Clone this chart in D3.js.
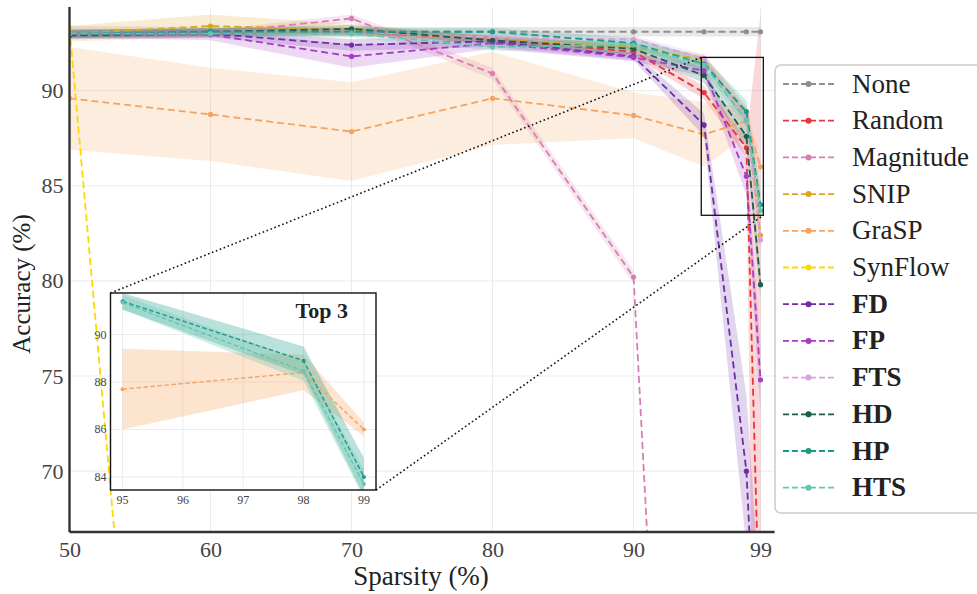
<!DOCTYPE html>
<html>
<head>
<meta charset="utf-8">
<script src="https://cdn.jsdelivr.net/npm/d3@7"></script>
<style>
  body { margin: 0; background: #fff; }
  svg { font-family: "Liberation Serif", "DejaVu Serif", serif; }
</style>
</head>
<body>
<svg id="chart" width="977" height="594"></svg>
<script>
// sparsity levels (x) and methods
const sparsity = [50, 60, 70, 80, 90, 95, 98, 99];
const methodNames = ['None', 'Random', 'Magnitude', 'SNIP', 'GraSP', 'SynFlow', 'FD', 'FP', 'FTS', 'HD', 'HP', 'HTS'];
const methodColors = ['#8e8e8e', '#e6363b', '#d67fb3', '#daa520', '#f4a460', '#ffd700', '#6f2da8', '#a63dc2', '#dba0e0', '#1b5e4f', '#1b9a88', '#62c5b1'];
const boldNames = ['FD', 'FP', 'FTS', 'HD', 'HP', 'HTS'];
const insetNames = ['GraSP', 'HP', 'HTS'];

// mean accuracy (%)
const accNone      = [93.1, 93.1, 93.1, 93.1, 93.1, 93.1, 93.1, 93.1];
const accRandom    = [93.0, 93.1, 93.1, 92.7, 92.05, 89.9, 87.0, 60.0];
const accMagnitude = [93.05, 93.0, 93.8, 90.9, 80.2, 10.0, 10.0, 10.0];
const accSnip      = [93.0, 93.4, 93.2, 92.7, 92.3, 91.6, 88.7, 82.4];
const accGrasp     = [89.6, 88.75, 87.85, 89.6, 88.7, 87.7, 88.4, 86.0];
const accSynflow   = [93.3, 10.0, 10.0, 10.0, 10.0, 10.0, 10.0, 10.0];
const accFD        = [92.9, 93.0, 92.4, 92.6, 91.8, 88.2, 70.0, 55.0];
const accFP        = [93.0, 92.95, 91.8, 92.5, 91.75, 91.05, 85.5, 74.8];
const accFTS       = [93.0, 93.1, 93.1, 92.8, 92.7, 91.7, 88.6, 82.15];
const accHD        = [92.95, 93.1, 93.25, 92.65, 92.2, 90.8, 87.6, 79.8];
const accHP        = [93.0, 93.1, 93.1, 93.1, 92.5, 91.4, 88.9, 84.0];
const accHTS       = [93.0, 93.0, 93.0, 92.3, 92.4, 91.35, 88.45, 83.7];

// standard deviation (%)
const errNone      = [0.3, 0.25, 0.25, 0.25, 0.25, 0.25, 0.25, 0.25];
const errRandom    = [0.2, 0.2, 0.2, 0.2, 0.25, 0.35, 0.5, 34.0];
const errMagnitude = [0.2, 0.2, 0.2, 0.3, 0.35, 0, 0, 0];
const errSnip      = [0.4, 0.6, 0.3, 0.2, 0.2, 0.3, 0.5, 0.8];
const errGrasp     = [2.7, 2.45, 2.6, 2.45, 1.2, 1.7, 0.75, 0.3];
const errSynflow   = [0.3, 0, 0, 0, 0, 0, 0, 0];
const errFD        = [0.2, 0.2, 0.3, 0.3, 0.2, 0.6, 4.0, 8.0];
const errFP        = [0.2, 0.3, 0.6, 0.3, 0.2, 0.3, 1.0, 1.8];
const errFTS       = [0.2, 0.2, 0.2, 0.2, 0.2, 0.2, 0.5, 1.0];
const errHD        = [0.2, 0.2, 0.2, 0.2, 0.3, 0.4, 0.6, 0.8];
const errHP        = [0.2, 0.2, 0.2, 0.2, 0.3, 0.35, 0.6, 0.8];
const errHTS       = [0.2, 0.2, 0.2, 0.2, 0.3, 0.3, 0.4, 0.6];

const xTicks = [50, 60, 70, 80, 90, 99];
const yTicks = [70, 75, 80, 85, 90];
const insetXTicks = [95, 96, 97, 98, 99];
const insetYTicks = [84, 86, 88, 90];

const accs = [accNone, accRandom, accMagnitude, accSnip, accGrasp, accSynflow, accFD, accFP, accFTS, accHD, accHP, accHTS];
const errs = [errNone, errRandom, errMagnitude, errSnip, errGrasp, errSynflow, errFD, errFP, errFTS, errHD, errHP, errHTS];

const series = methodNames.map((name, i) => ({
  name,
  color: methodColors[i],
  points: sparsity.map((s, j) => ({ s, mean: accs[i][j], err: errs[i][j] }))
}));

const svg = d3.select('#chart');
const plot = { left: 69.5, right: 774.6, top: 7, bottom: 532 };

const x = d3.scaleLinear().domain([50, 100]).range([plot.left, plot.right]);
const y = d3.scaleLinear().domain([66.8, 94.4]).range([plot.bottom, plot.top]);

svg.append('defs').append('clipPath').attr('id', 'main-clip')
  .append('rect')
  .attr('x', plot.left).attr('y', plot.top)
  .attr('width', plot.right - plot.left).attr('height', plot.bottom - plot.top);

// grid lines
const grid = svg.append('g');
grid.selectAll('.gx').data(xTicks.slice(1)).enter().append('line')
  .attr('x1', (d) => x(d)).attr('x2', (d) => x(d))
  .attr('y1', plot.top).attr('y2', plot.bottom)
  .attr('stroke', '#ebebeb').attr('stroke-width', 1);
grid.selectAll('.gy').data(yTicks).enter().append('line')
  .attr('x1', plot.left).attr('x2', plot.right)
  .attr('y1', (d) => y(d)).attr('y2', (d) => y(d))
  .attr('stroke', '#ebebeb').attr('stroke-width', 1);

function drawSeries(g, list, xs, ys, opts) {
  const area = d3.area()
    .x((d) => xs(d.s))
    .y0((d) => ys(d.mean - d.err))
    .y1((d) => ys(d.mean + d.err));
  const line = d3.line()
    .x((d) => xs(d.s))
    .y((d) => ys(d.mean));

  for (const sr of list) {
    g.append('path')
      .datum(sr.points)
      .attr('d', area)
      .attr('fill', sr.color)
      .attr('fill-opacity', opts.bandOpacity);
  }
  for (const sr of list) {
    g.append('path')
      .datum(sr.points)
      .attr('d', line)
      .attr('fill', 'none')
      .attr('stroke', sr.color)
      .attr('stroke-width', opts.lineWidth)
      .attr('stroke-dasharray', opts.dash);
    g.selectAll(null)
      .data(sr.points)
      .enter()
      .append('circle')
      .attr('cx', (d) => xs(d.s))
      .attr('cy', (d) => ys(d.mean))
      .attr('r', opts.dotR)
      .attr('fill', sr.color);
  }
}

// main series
const mainG = svg.append('g').attr('clip-path', 'url(#main-clip)');
drawSeries(mainG, series, x, y, { bandOpacity: 0.2, lineWidth: 1.8, dash: '7,4', dotR: 2.6 });

// spines
svg.append('line')
  .attr('x1', plot.left).attr('x2', plot.left)
  .attr('y1', plot.top).attr('y2', plot.bottom)
  .attr('stroke', '#333').attr('stroke-width', 2.4);
svg.append('line')
  .attr('x1', plot.left).attr('x2', plot.right)
  .attr('y1', plot.bottom).attr('y2', plot.bottom)
  .attr('stroke', '#333').attr('stroke-width', 2.4);

// tick labels
const xAxis = svg.append('g')
  .attr('transform', `translate(0, ${plot.bottom})`)
  .call(d3.axisBottom(x).tickValues(xTicks).tickSize(0).tickPadding(9));
xAxis.select('.domain').remove();
xAxis.selectAll('text')
  .attr('font-family', '"Liberation Serif", serif')
  .attr('font-size', 22).attr('fill', '#444');

const yAxis = svg.append('g')
  .attr('transform', `translate(${plot.left}, 0)`)
  .call(d3.axisLeft(y).tickValues(yTicks).tickSize(0).tickPadding(6));
yAxis.select('.domain').remove();
yAxis.selectAll('text')
  .attr('font-family', '"Liberation Serif", serif')
  .attr('font-size', 22).attr('fill', '#444');

// axis titles
svg.append('text')
  .attr('x', 421).attr('y', 585)
  .attr('text-anchor', 'middle')
  .attr('font-size', 27).attr('fill', '#222')
  .text('Sparsity (%)');
svg.append('text')
  .attr('transform', 'translate(30, 284) rotate(-90)')
  .attr('text-anchor', 'middle')
  .attr('font-size', 25).attr('fill', '#222')
  .text('Accuracy (%)');

// inset
const inset = { left: 110.5, right: 376, top: 293, bottom: 490 };
const xi = d3.scaleLinear().domain([94.8, 99.2]).range([inset.left, inset.right]);
const yi = d3.scaleLinear().domain([83.45, 91.75]).range([inset.bottom, inset.top]);

// zoom rectangle and connectors
const zx0 = x(xi.domain()[0]), zx1 = x(xi.domain()[1]);
const zy0 = y(yi.domain()[1]), zy1 = y(yi.domain()[0]);
svg.append('rect')
  .attr('x', zx0).attr('y', zy0)
  .attr('width', zx1 - zx0).attr('height', zy1 - zy0)
  .attr('fill', 'none').attr('stroke', '#111').attr('stroke-width', 1.3);
svg.append('line')
  .attr('x1', inset.left).attr('y1', inset.top)
  .attr('x2', zx0).attr('y2', zy0)
  .attr('stroke', '#111').attr('stroke-width', 1.6).attr('stroke-dasharray', '1.6,2.6');
svg.append('line')
  .attr('x1', inset.right).attr('y1', inset.bottom)
  .attr('x2', zx1).attr('y2', zy1)
  .attr('stroke', '#111').attr('stroke-width', 1.6).attr('stroke-dasharray', '1.6,2.6');

svg.select('defs').append('clipPath').attr('id', 'inset-clip')
  .append('rect')
  .attr('x', inset.left).attr('y', inset.top)
  .attr('width', inset.right - inset.left).attr('height', inset.bottom - inset.top);

svg.append('rect')
  .attr('x', inset.left).attr('y', inset.top)
  .attr('width', inset.right - inset.left).attr('height', inset.bottom - inset.top)
  .attr('fill', '#fff');

const insetGrid = svg.append('g');
insetGrid.selectAll(null).data(insetXTicks).enter().append('line')
  .attr('x1', (d) => xi(d)).attr('x2', (d) => xi(d))
  .attr('y1', inset.top).attr('y2', inset.bottom)
  .attr('stroke', '#ebebeb');
insetGrid.selectAll(null).data(insetYTicks).enter().append('line')
  .attr('x1', inset.left).attr('x2', inset.right)
  .attr('y1', (d) => yi(d)).attr('y2', (d) => yi(d))
  .attr('stroke', '#ebebeb');

const insetSeries = series
  .filter((sr) => insetNames.includes(sr.name))
  .map((sr) => ({ ...sr, points: sr.points.filter((p) => p.s >= 95) }));
const insetG = svg.append('g').attr('clip-path', 'url(#inset-clip)');
drawSeries(insetG, insetSeries, xi, yi, { bandOpacity: 0.3, lineWidth: 1.4, dash: '4.5,2.5', dotR: 2 });

svg.append('rect')
  .attr('x', inset.left).attr('y', inset.top)
  .attr('width', inset.right - inset.left).attr('height', inset.bottom - inset.top)
  .attr('fill', 'none').attr('stroke', '#111').attr('stroke-width', 1.4);

svg.append('g')
  .selectAll('text')
  .data(insetXTicks)
  .enter()
  .append('text')
  .attr('x', (d) => xi(d)).attr('y', inset.bottom + 14)
  .attr('text-anchor', 'middle')
  .attr('font-size', 12).attr('fill', '#444')
  .text((d) => d);
svg.append('g')
  .selectAll('text')
  .data(insetYTicks)
  .enter()
  .append('text')
  .attr('x', inset.left - 4).attr('y', (d) => yi(d) + 4)
  .attr('text-anchor', 'end')
  .attr('font-size', 12).attr('fill', '#444')
  .text((d) => d);

svg.append('text')
  .attr('x', 348).attr('y', 318)
  .attr('text-anchor', 'end')
  .attr('font-size', 22).attr('font-weight', 'bold').attr('fill', '#222')
  .text('Top 3');

// legend
const legend = svg.append('g');
legend.append('rect')
  .attr('x', 775).attr('y', 65)
  .attr('width', 240).attr('height', 448)
  .attr('rx', 6)
  .attr('fill', '#fff').attr('fill-opacity', 0.9)
  .attr('stroke', '#ccc').attr('stroke-width', 1.5);

const rows = legend.selectAll('.row')
  .data(series)
  .enter()
  .append('g')
  .attr('transform', (d, i) => `translate(0, ${84 + i * 36.7})`);
rows.append('line')
  .attr('x1', 783).attr('x2', 834)
  .attr('stroke', (d) => d.color)
  .attr('stroke-width', 1.8)
  .attr('stroke-dasharray', '6,3');
rows.append('circle')
  .attr('cx', 808.5).attr('r', 3)
  .attr('fill', (d) => d.color);
rows.append('text')
  .attr('x', 852).attr('y', 8.5)
  .attr('font-size', 27)
  .attr('font-weight', (d) => boldNames.includes(d.name) ? 'bold' : 'normal')
  .attr('fill', '#222')
  .text((d) => d.name);
</script>
</body>
</html>
